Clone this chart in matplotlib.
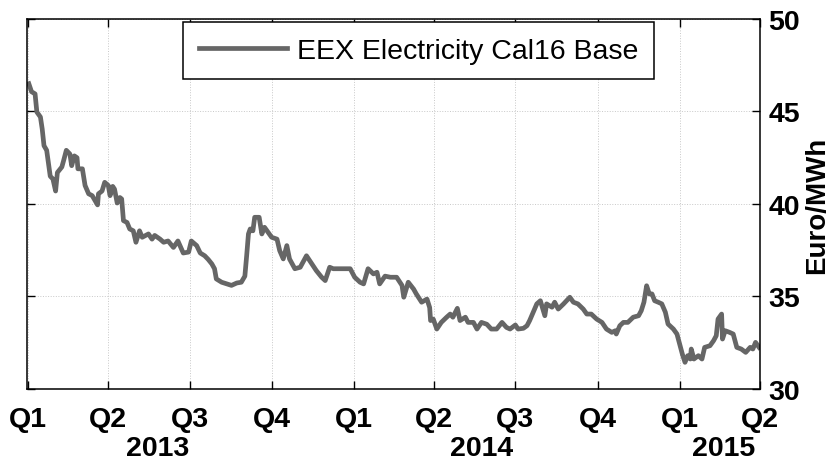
import datetime as dt
import matplotlib
matplotlib.use("Agg")
import matplotlib.pyplot as plt
import matplotlib.transforms as mtransforms

# Datos: días desde el 1 de enero de 2013 y precio (Euro/MWh)
inicio = dt.date(2013, 1, 1)
dias = [1, 4, 8, 10, 14, 16, 18, 21, 25, 28, 31, 33, 38, 40, 43, 47, 49, 52, 55, 56,
        61, 64, 68, 72, 78, 79, 83, 86, 90, 92, 95, 97, 100, 103, 105, 107, 111, 114,
        118, 121, 125, 128, 135, 139, 142, 148, 152, 157, 163, 168, 174, 180, 183,
        189, 193, 198, 202, 206, 209, 211, 217, 223, 228, 234, 239, 243, 245, 247,
        249, 252, 254, 259, 262, 265, 269, 273, 279, 282, 286, 290, 293, 299, 305,
        312, 318, 323, 329, 333, 338, 342, 349, 361, 366, 372, 376, 381, 387, 391,
        394, 400, 406, 413, 419, 421, 426, 432, 435, 441, 447, 450, 451, 454, 458,
        463, 469, 473, 476, 481, 484, 490, 493, 499, 503, 508, 514, 519, 525, 531,
        536, 540, 546, 549, 555, 559, 562, 566, 570, 574, 579, 581, 587, 590, 594,
        600, 607, 611, 616, 622, 626, 631, 637, 643, 648, 654, 658, 659, 663, 667,
        672, 678, 684, 687, 690, 693, 696, 699, 702, 706, 710, 714, 717, 723, 727,
        730, 733, 736, 739, 742, 743, 746, 751, 755, 758, 764, 768, 771, 773, 777,
        778, 781, 786, 790, 794, 799, 804, 809, 812, 815, 819]
precio = [46.5, 46.07, 45.95, 44.97, 44.7, 44.05, 43.15, 42.9, 41.5, 41.35, 40.7, 41.7,
          42.0, 42.35, 42.9, 42.7, 42.07, 42.6, 42.5, 41.9, 41.9, 41.0, 40.55, 40.45,
          39.95, 40.55, 40.7, 41.17, 41.0, 40.45, 40.95, 40.8, 40.05, 40.35, 40.27,
          39.1, 39.0, 38.65, 38.55, 37.93, 38.55, 38.2, 38.38, 38.1, 38.3, 38.1, 37.93,
          38.0, 37.65, 38.0, 37.35, 37.4, 38.0, 37.75, 37.35, 37.2, 37.0, 36.76, 36.5,
          35.95, 35.77, 35.68, 35.6, 35.73, 35.77, 36.1, 37.2, 38.38, 38.65, 38.55,
          39.28, 39.28, 38.38, 38.74, 38.47, 38.2, 38.1, 37.48, 37.03, 37.75, 37.03,
          36.5, 36.58, 37.2, 36.76, 36.4, 36.04, 35.86, 36.58, 36.5, 36.5, 36.5, 36.04,
          35.77, 35.68, 36.5, 36.22, 36.31, 35.68, 36.1, 36.04, 36.04, 35.6, 34.96,
          35.77, 35.4, 35.14, 34.69, 34.86, 34.4, 33.7, 33.78, 33.24, 33.6, 33.88,
          34.05, 33.88, 34.36, 33.7, 33.88, 33.6, 33.6, 33.24, 33.6, 33.5, 33.24, 33.24,
          33.6, 33.33, 33.24, 33.46, 33.24, 33.28, 33.42, 33.7, 34.15, 34.6, 34.77,
          33.96, 34.6, 34.42, 34.69, 34.32, 34.6, 34.96, 34.69, 34.6, 34.32, 34.05,
          34.05, 33.78, 33.6, 33.24, 33.06, 33.15, 32.97, 33.42, 33.6, 33.6, 33.88,
          33.96, 34.23, 34.69, 35.58, 35.14, 35.14, 34.77, 34.69, 34.6, 34.15, 33.51,
          33.24, 32.97, 32.43, 31.89, 31.44, 31.8, 31.62, 32.16, 31.62, 31.8, 31.62,
          32.25, 32.34, 32.61, 32.88, 33.78, 34.05, 32.7, 33.15, 33.06, 32.97, 32.25,
          32.16, 31.98, 32.25, 32.16, 32.52, 32.25]
fechas = [inicio + dt.timedelta(days=d) for d in dias]

# Trimestres del eje x
trimestres = [dt.date(2013, 1, 1), dt.date(2013, 4, 1), dt.date(2013, 7, 1), dt.date(2013, 10, 1),
              dt.date(2014, 1, 1), dt.date(2014, 4, 1), dt.date(2014, 7, 1), dt.date(2014, 10, 1),
              dt.date(2015, 1, 1), dt.date(2015, 4, 1)]
etiquetas_trim = ["Q1", "Q2", "Q3", "Q4", "Q1", "Q2", "Q3", "Q4", "Q1", "Q2"]
años = ["2013", "2014", "2015"]
fechas_años = [dt.date(2013, 5, 26), dt.date(2014, 5, 24), dt.date(2015, 2, 19)]

plt.rcParams['font.family'] = ['Liberation Sans', 'DejaVu Sans']

fig = plt.figure(figsize=(8.37, 4.64), dpi=100)
ax = fig.add_axes([0.0323, 0.1595, 0.8757, 0.7975])

ax.plot(fechas, precio, color='#666666', linewidth=3.4, label='EEX Electricity Cal16 Base')

ax.set_xlim(dt.date(2012, 12, 31), dt.date(2015, 4, 1))
ax.set_ylim(30, 50)
ax.set_xticks(trimestres)
ax.set_xticklabels(etiquetas_trim, fontsize=20.5, fontweight='bold')
ax.set_yticks([30, 35, 40, 45, 50])
ax.set_yticklabels(["30", "35", "40", "45", "50"], fontsize=20.5, fontweight='bold')

ax.yaxis.tick_right()
ax.yaxis.set_label_position('right')
ax.set_ylabel('Euro/MWh', fontsize=20, fontweight='bold', labelpad=3)

ax.tick_params(axis='both', direction='in', length=6, width=1, top=True, bottom=True,
               left=True, right=True, labelleft=False, labelright=True)
ax.tick_params(axis='x', pad=12)
ax.tick_params(axis='y', pad=6)

for s in ax.spines.values():
    s.set_linewidth(1.1)
    s.set_color('black')

ax.grid(True, linestyle=':', color='#c8c8c8', linewidth=0.7)

trans = mtransforms.blended_transform_factory(ax.transData, ax.transAxes)
for f, a in zip(fechas_años, años):
    ax.text(f, -0.178, a, transform=trans, ha='center', va='baseline',
            fontsize=20.5, fontweight='bold')

leg = ax.legend(loc='upper left', bbox_to_anchor=(0.213, 0.992), fontsize=20.5,
                fancybox=False, framealpha=1, edgecolor='black', handlelength=3.1,
                handletextpad=0.35, borderpad=0.55, borderaxespad=0)
leg.get_frame().set_linewidth(1.1)

fig.savefig('out.png', dpi=100)
